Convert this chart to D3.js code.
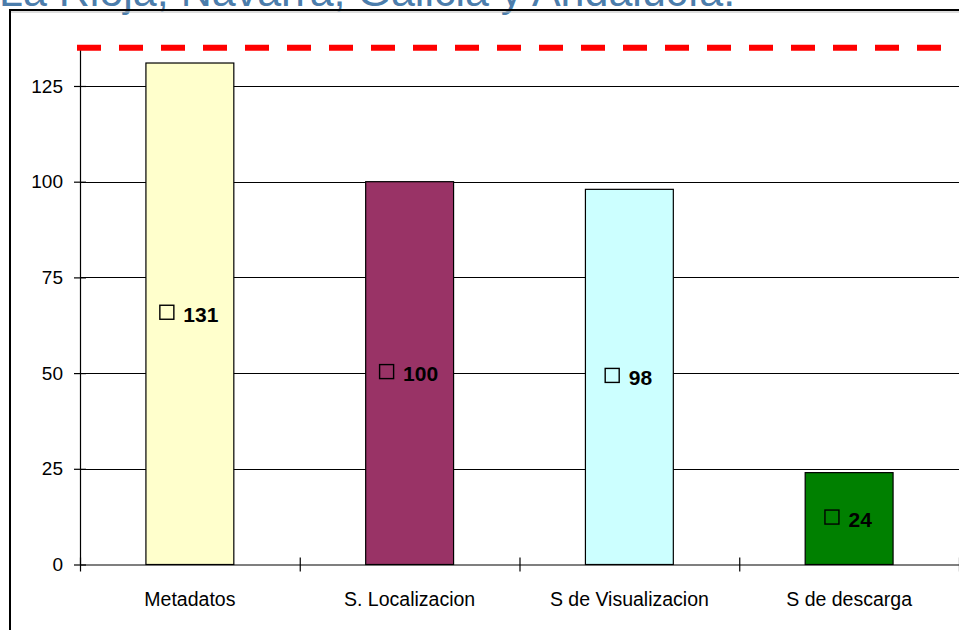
<!DOCTYPE html>
<html>
<head>
<meta charset="utf-8">
<title>Servicios</title>
<script src="https://d3js.org/d3.v7.min.js"></script>
<style>
  body { margin:0; background:#fff; }
  svg { display:block; font-family:"Liberation Sans", Arial, sans-serif; }
</style>
</head>
<body>
<svg width="959" height="630"></svg>
<script>
// data
const categories = ['Metadatos', 'S. Localizacion', 'S de Visualizacion', 'S de descarga'];
const values = [131, 100, 98, 24];
const colors = ['#ffffcc', '#993366', '#ccffff', '#008000'];
const yTicks = [0, 25, 50, 75, 100, 125];
const limit = 135;   // red dashed line
const title = 'La Rioja, Navarra, Galicia y Andalucía.';

const svg = d3.select('svg');
const x0 = 80, x1 = 959, yTop = 47.7, yBase = 564.5;

const x = d3.scaleBand().domain(categories).range([x0, x1]);
const xEdge = d3.scaleLinear().domain([0, categories.length]).range([x0, x1]);
const y = d3.scaleLinear().domain([0, limit]).range([yBase, yTop]);

// title, mostly cut off at the top
svg.append('text').attr('x', -1).attr('y', 6)
  .attr('font-size', 43).attr('fill', '#4c7dab')
  .text(title);

// outer frame
svg.append('rect').attr('x', 10).attr('y', 10).attr('width', 1000).attr('height', 700)
  .attr('fill', 'none').attr('stroke', '#000').attr('stroke-width', 2);
svg.append('line').attr('x1', 11).attr('x2', 1000).attr('y1', 12).attr('y2', 12)
  .attr('stroke', '#bbb').attr('stroke-width', 1);

// gridlines
svg.append('g').selectAll('line').data(yTicks.filter(d => d > 0)).join('line')
  .attr('x1', x0).attr('x2', x1 + 5)
  .attr('y1', d => Math.round(y(d)) + 0.5).attr('y2', d => Math.round(y(d)) + 0.5)
  .attr('stroke', '#000').attr('stroke-width', 1.2);

// bars
svg.append('g').selectAll('rect').data(values).join('rect')
  .attr('x', (d, i) => x(categories[i]) + x.bandwidth() * 0.3)
  .attr('width', x.bandwidth() * 0.4)
  .attr('y', d => y(d))
  .attr('height', d => yBase - y(d))
  .attr('fill', (d, i) => colors[i])
  .attr('stroke', '#000').attr('stroke-width', 1.2);

// y axis
const gy = svg.append('g').attr('transform', `translate(${x0},0)`)
  .call(d3.axisLeft(y).tickValues(yTicks).tickSize(6).tickPadding(11));
gy.select('.domain').attr('d', `M0.5,${yTop}V${yBase}`).attr('stroke-width', 1.2);
gy.selectAll('.tick line').attr('x1', 6).attr('stroke-width', 1.2);
gy.selectAll('.tick text').attr('font-size', 19).attr('fill', '#000')
  .attr('font-family', '"Liberation Sans", Arial, sans-serif');

// x axis, ticks at the band edges
const gx = svg.append('g').attr('transform', `translate(0,${yBase})`)
  .call(d3.axisBottom(xEdge).ticks(categories.length).tickSize(7).tickFormat(''));
gx.select('.domain').attr('d', `M${x0},0.5H${x1 + 5}`).attr('stroke-width', 1.2);
gx.selectAll('.tick line').attr('y1', -7).attr('stroke-width', 1.2);

// category labels
svg.append('g').selectAll('text').data(categories).join('text')
  .attr('x', d => x(d) + x.bandwidth() / 2).attr('y', 606)
  .attr('text-anchor', 'middle').attr('font-size', 19.5)
  .text(d => d);

// value labels with the little legend square
const lab = svg.append('g').selectAll('g').data(values).join('g')
  .attr('transform', (d, i) => `translate(${x(categories[i]) + x.bandwidth() / 2},${(y(d) + yBase) / 2})`);
lab.append('rect').attr('y', -8.5).attr('width', 14).attr('height', 14)
  .attr('fill', 'none').attr('stroke', '#000').attr('stroke-width', 1.4);
lab.append('text').attr('y', 8).attr('font-size', 21).attr('font-weight', 'bold')
  .text(d => d);
lab.each(function() {
  const g = d3.select(this);
  const w = g.select('text').node().getComputedTextLength();
  const total = 15 + 9 + w, left = -total / 2 - 1;
  g.select('rect').attr('x', left + 0.5);
  g.select('text').attr('x', left + 24);
});

// red dashed limit line
svg.append('line')
  .attr('x1', 77).attr('x2', 1000).attr('y1', y(limit)).attr('y2', y(limit))
  .attr('stroke', '#ff0000').attr('stroke-width', 6).attr('stroke-dasharray', '24,18');
</script>
</body>
</html>
